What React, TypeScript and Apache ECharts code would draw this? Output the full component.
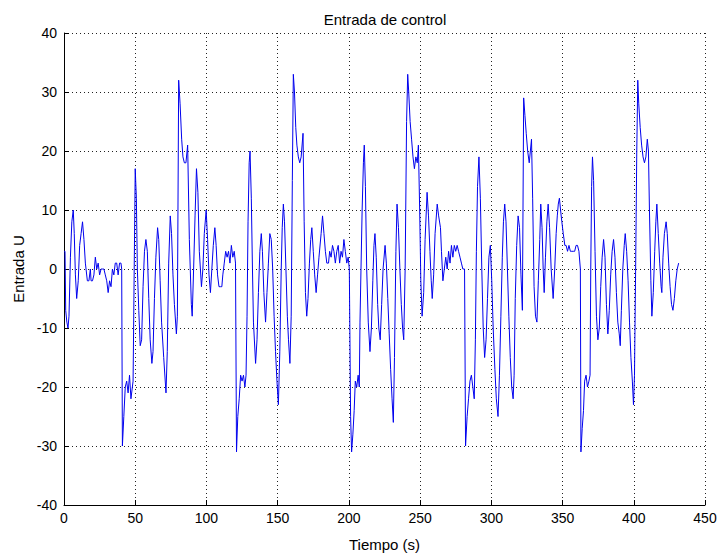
import React, { useEffect, useRef } from "react";
import * as echarts from "echarts";

const titleText = "Entrada de control";
const xName = "Tiempo (s)";
const yName = "Entrada U";

const times = [
  0, 0.7, 1.2, 2, 2.8, 3.5, 4.5, 5.5, 6.5, 7.2, 8, 8.9, 10, 11, 12, 13, 14, 15, 16.4, 17.5,
  18.5, 19, 20, 21, 22, 23, 24, 25, 26, 27, 28, 29, 30, 31, 32, 33, 34, 35, 36, 37,
  38, 39, 40, 40.5, 41, 42, 43, 44, 45, 46, 47, 48, 48.5, 50, 50.8, 51.5, 52.5, 53.5, 54.5, 55.5,
  56.5, 57.5, 58.5, 59.5, 60.5, 61.7, 62.5, 63.5, 64.5, 65.7, 66.5, 67.5, 68.5, 70, 71.6, 72.5, 73.5, 74.6, 75.5, 76.5,
  77.5, 78.9, 79.6, 80.5, 81.5, 82.6, 83.5, 84.5, 85.6, 86.8, 88, 89.4, 90, 91, 92, 93, 94, 95, 96.5, 97.5,
  98.5, 99.8, 100.8, 101.8, 102.8, 103.8, 104.8, 105.9, 106.8, 107.8, 108.8, 109.8, 110.8, 111.5, 112.5, 113.5, 114.5, 115.5, 116.5, 117.5,
  118.5, 119.5, 120.4, 121.1, 122, 123, 124, 125, 126, 127, 127.8, 128.5, 129.2, 130, 130.6, 131.5, 132.3, 133, 134.5, 135.5,
  136.5, 137.5, 138.5, 139.3, 140.3, 141.5, 142.5, 143.5, 144.5, 145.5, 146.5, 147.5, 148.5, 149.5, 150.5, 151.5, 152.5, 153.2, 154, 154.8,
  155.8, 156.8, 157.6, 158.6, 159.5, 160.3, 161, 161.8, 162.7, 163.5, 164.5, 165.5, 166.5, 167.8, 168.6, 169.5, 170.4, 171.3, 172.3, 173.2,
  174, 175, 176, 177, 178, 179, 180.5, 181.5, 182.5, 183.5, 184.5, 185.7, 186.5, 187.5, 188.5, 189.5, 190.5, 191.5, 192.5, 193.5,
  194.5, 195.5, 196.5, 197.5, 198.5, 199.5, 200.3, 201.2, 201.9, 202.8, 203.7, 204.5, 205.5, 206.5, 207.3, 207.8, 208.5, 209.3, 210.2, 210.8,
  211.6, 212.5, 213.6, 214.8, 215.8, 216.8, 217.6, 218.3, 219.2, 220.2, 221, 222, 223, 224, 225.4, 226.3, 227.3, 228.3, 229.3, 230.3,
  231.2, 232, 233, 233.8, 234.8, 235.8, 236.8, 237.7, 238.5, 239.5, 240.5, 241.3, 242, 243, 244, 245, 246, 247, 248, 248.8,
  249.7, 250.5, 251.4, 252.5, 253.5, 254.9, 255.9, 256.9, 257.8, 258.5, 259.5, 260.5, 262, 263, 264.3, 265, 266, 267, 268, 269,
  270, 271, 272, 273, 274, 275, 276, 277, 278, 279, 280, 281.2, 281.9, 283, 284, 285, 286, 287, 288, 288.8,
  289.5, 290.3, 291.3, 292.3, 293.3, 294.3, 295.3, 296.3, 297.3, 298.3, 299.3, 300.3, 301.3, 302.5, 303.5, 304.7, 305.7, 306.7, 307.7, 308.5,
  309.4, 310.3, 311.3, 312.3, 313.3, 314.3, 315.3, 316, 316.8, 317.8, 318.8, 319.8, 320.8, 321.8, 322.7, 323.6, 324.5, 325.5, 326.6, 327.4,
  328.2, 329, 330, 331, 332, 333, 334, 334.7, 335.6, 336.4, 337.1, 338, 339, 339.9, 340.9, 342, 343.4, 344.5, 345.5, 346.3,
  347, 347.8, 348.6, 349.5, 350.5, 351.6, 352.5, 353.5, 354.5, 355.5, 356.5, 357.5, 358.5, 359.5, 360.5, 361.5, 362.5, 362.9, 363.8, 364.7,
  365.5, 366.5, 367.5, 368.5, 369.3, 369.8, 370.4, 371, 371.8, 372.8, 373.8, 374.8, 375.8, 376.8, 377.8, 378.8, 379.8, 380.8, 381.8, 382.8,
  383.8, 384.8, 385.8, 386.8, 387.8, 388.8, 389.8, 390.5, 391.3, 392.3, 393.3, 394, 395, 396, 397, 398, 399, 399.8, 400.5, 401.3,
  402.1, 402.8, 403.5, 404.5, 405.5, 406.5, 407.5, 408.5, 409.5, 410.3, 411, 412, 412.7, 413.7, 414.7, 415.5, 416.2, 417.2, 418.2, 419.2,
  419.7, 420.5, 421.5, 422.7, 423.5, 424.5, 425.5, 426.5, 427.5, 428.5, 429.5, 430.5, 431.5,
];

const values = [
  3, 3, -7, -9, -10, -8, 2, 8, 10, 6, -1, -5, -2, 4, 6, 8, 5, 1, -2, -2,
  0, -2, -2, -1, 2, 0, 1, -1, 0, 0, 0, -1, -2, -4, -2, -3, 0, -1, 1, 1,
  -1, 1, 1, 0, -30, -25, -20, -19, -21, -18, -22, -20, -19, 17, 12, 0, -7, -13, -12, -3,
  3, 5, 3, -5, -12, -16, -14, -5, 2, 7, 5, -2, -9, -15, -21, -14, 1, 9, 6, -1,
  -6, -11, -8, 32, 28, 22, 19, 18, 18, 21, 5, -6, -8, 0, 9, 17, 13, 3, -3, 0,
  6, 10, 5, -1, -4, 0, 4, 7, 4, -1, -3, -3, -3, -1, 1, 3, 2, 3, 1, 4,
  2, 3, 1, -31, -25, -22, -18, -19, -18, -20, -18, -8, 8, 18, 20, 12, 0, -9, -16, -12,
  -4, 3, 6, 3, -4, -9, -4, 1, 6, 5, 0, -8, -14, -19, -23, -14, 0, 7, 11, 8,
  0, -8, -12, -16, -8, 15, 33, 30, 24, 21, 19, 18, 19, 23, 8, -4, -8, -5, 1, 5,
  7, 3, -1, -4, -1, 2, 6, 9, 6, 3, 1, 1, 3, 2, 4, 3, 1, 3, 4, 1,
  3, 2, 5, 3, 1, 2, 0, -25, -31, -28, -24, -19, -20, -18, -20, -9, 0, 10, 18, 21,
  14, 0, -9, -14, -10, -2, 4, 6, 2, -6, -10, -12, -6, 0, 4, 1, -5, -11, -17, -22,
  -26, -15, 3, 11, 7, 0, -6, -10, -12, 0, 25, 33, 30, 25, 22, 19, 17, 19, 18, 21,
  10, -2, -8, -4, 5, 13, 9, 3, -2, -5, -1, 6, 11, 9, 7, 3, -2, 0, 2, 0,
  3, 1, 4, 2, 4, 3, 4, 3, 2, 1, 0, 0, -30, -25, -22, -19, -18, -20, -22, -12,
  3, 14, 19, 12, 0, -10, -15, -12, -5, 2, 4, -2, -10, -17, -22, -25, -18, -8, 2, 8,
  11, 8, 0, -8, -15, -20, -22, -18, -5, 4, 9, 7, -1, -7, 29, 26, 23, 20, 18, 20,
  22, 12, -3, -8, -9, -2, 5, 11, 7, 0, -4, 2, 8, 11, 7, 0, -5, 0, 6, 9,
  11, 12, 10, 8, 6, 4, 4, 3, 4, 3, 3, 3, 3, 4, 4, 3, 0, -31, -27, -24,
  -19, -18, -20, -19, -18, 0, 14, 19, 15, 3, -8, -12, -10, -3, 2, 5, 2, -6, -11, -7,
  -1, 3, 5, 2, -4, -9, -11, -13, -7, 0, 4, 6, 3, -2, -9, -15, -19, -23, -18, 0,
  20, 32, 28, 24, 21, 19, 18, 19, 22, 20, 10, -2, -8, -4, 3, 8, 11, 6, 1, -3,
  -4, 2, 6, 8, 6, 1, -3, -6, -7, -5, -2, 0, 1,
];

const xTicks = { min: 0, max: 450, interval: 50 };
const yTicks = { min: -40, max: 40, interval: 10 };

export default function App() {
  const ref = useRef<HTMLDivElement>(null);
  useEffect(() => {
    if (!ref.current) return;
    const chart = echarts.init(ref.current, undefined, { renderer: "svg" });
    const data = times.map((t, i) => [t, values[i]]);
    const font = "Liberation Sans, Arial, sans-serif";
    const gridLine = { show: true, lineStyle: { color: "#222", type: [1, 3] as any, width: 1 } };
    chart.setOption({
      animation: false,
      backgroundColor: "#fff",
      title: {
        text: titleText,
        left: 380,
        textAlign: "center",
        top: 7,
        textStyle: { fontFamily: font, fontSize: 15, fontWeight: "normal", color: "#000" },
      },
      grid: { left: 64, right: 16, top: 33, bottom: 44, containLabel: false },
      xAxis: {
        type: "value",
        min: xTicks.min,
        max: xTicks.max,
        interval: xTicks.interval,
        name: xName,
        nameLocation: "middle",
        nameGap: 32,
        nameTextStyle: { fontFamily: font, fontSize: 15, color: "#000" },
        axisLine: { onZero: false, lineStyle: { color: "#000", width: 1 } },
        axisTick: { inside: true, length: 5, lineStyle: { color: "#000" } },
        axisLabel: { fontFamily: font, fontSize: 14, color: "#000", margin: 6 },
        splitLine: gridLine,
      },
      yAxis: {
        type: "value",
        min: yTicks.min,
        max: yTicks.max,
        interval: yTicks.interval,
        name: yName,
        nameLocation: "middle",
        nameGap: 36,
        nameTextStyle: { fontFamily: font, fontSize: 15, color: "#000" },
        axisLine: { onZero: false, lineStyle: { color: "#000", width: 1 } },
        axisTick: { inside: true, length: 5, lineStyle: { color: "#000" } },
        axisLabel: { fontFamily: font, fontSize: 14, color: "#000", margin: 7 },
        splitLine: gridLine,
      },
      series: [
        {
          type: "line",
          data,
          showSymbol: false,
          symbol: "none",
          lineStyle: { color: "#0000ee", width: 1 },
        },
      ],
    });
    return () => chart.dispose();
  }, []);
  return (
    <div
      ref={ref}
      style={{ position: "fixed", left: 0, top: 0, width: 721, height: 557, background: "#fff" }}
    />
  );
}
